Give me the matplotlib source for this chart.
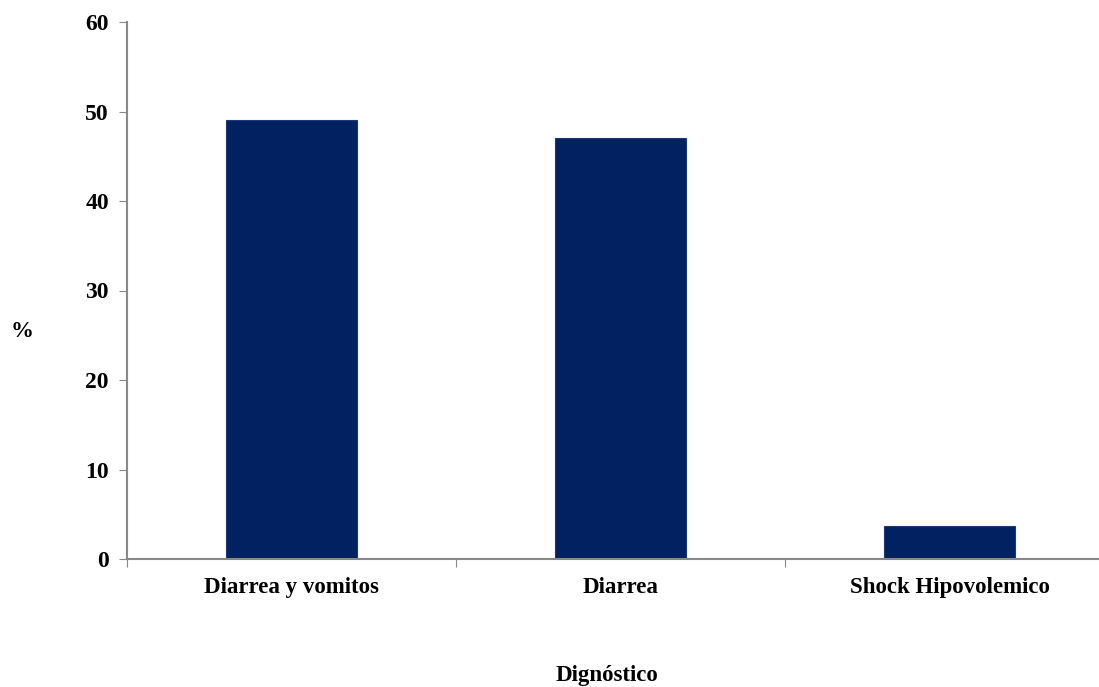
import matplotlib
matplotlib.use("Agg")
import matplotlib.pyplot as plt

categories = ["Diarrea y vomitos", "Diarrea", "Shock Hipovolemico"]
values = [49, 47, 3.7]
yticks = [0, 10, 20, 30, 40, 50, 60]

plt.rcParams['font.family'] = ['Liberation Serif', 'DejaVu Serif']
plt.rcParams['font.weight'] = 'bold'

fig = plt.figure(figsize=(10.99, 6.87), dpi=100)
# axes runs past the right edge of the figure, as in the original
ax = fig.add_axes([127 / 1099, (687 - 559) / 687, (1114 - 127) / 1099, (559 - 22) / 687])

x = range(len(categories))
ax.bar(x, values, width=0.4, color='#022160', edgecolor='#1c3a78', linewidth=0.8)

ax.set_xlim(-0.5, len(categories) - 0.5)
ax.set_ylim(0, 60)
ax.set_yticks(yticks)
ax.set_yticklabels([str(t) for t in yticks], fontsize=17, fontweight='bold')

ax.set_xticks([i - 0.5 for i in range(len(categories) + 1)])
ax.set_xticklabels([])
ax.set_xticks(list(x), minor=True)
ax.set_xticklabels(categories, minor=True, fontsize=16.5, fontweight='bold')
ax.tick_params(axis='x', which='minor', length=0, pad=13)
ax.tick_params(axis='x', which='major', length=6, color='#888888', direction='out')
ax.tick_params(axis='y', length=6, color='#888888', pad=7)

for side in ['top', 'right']:
    ax.spines[side].set_visible(False)
for side in ['left', 'bottom']:
    ax.spines[side].set_color('#888888')
    ax.spines[side].set_linewidth(1.5)

fig.text(22 / 1099, 1 - 331 / 687, "%", fontsize=16.5, fontweight='bold', ha='center', va='center')
fig.text(607 / 1099, 1 - 676 / 687, "Dignóstico", fontsize=16.5, fontweight='bold', ha='center', va='center')

fig.savefig('out.png', dpi=100)
